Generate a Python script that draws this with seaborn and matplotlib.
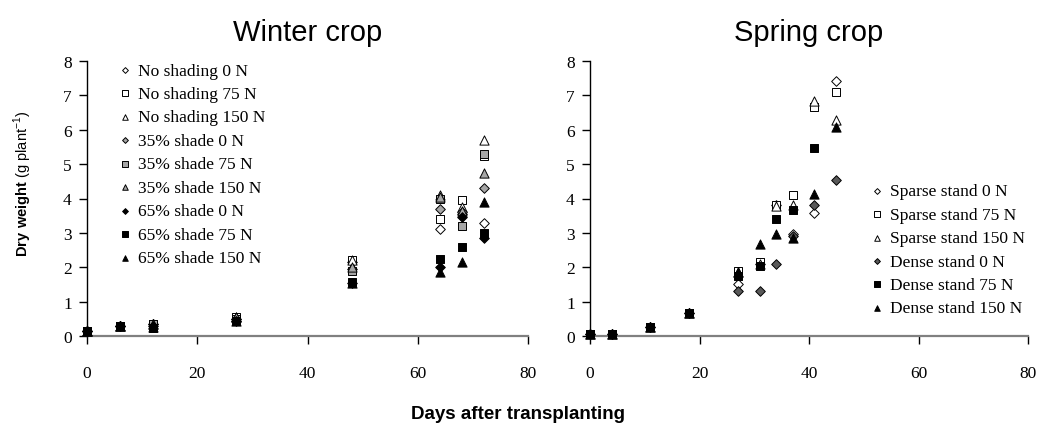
import matplotlib
matplotlib.use("Agg")
import matplotlib.pyplot as plt
import seaborn as sns
import numpy as np

# ---------------- data ----------------
winter_days = [0, 6, 12, 27, 48, 64, 68, 72]
winter_labels = ["No shading 0 N", "No shading 75 N", "No shading 150 N",
                 "35% shade 0 N", "35% shade 75 N", "35% shade 150 N",
                 "65% shade 0 N", "65% shade 75 N", "65% shade 150 N"]
w_ns0 = [0.15, 0.30, 0.35, 0.50, 2.15, 3.10, 3.55, 3.30]
w_ns75 = [0.15, 0.30, 0.35, 0.55, 2.20, 3.40, 3.95, 5.25]
w_ns150 = [0.15, 0.30, 0.35, 0.55, 2.20, 4.10, 3.75, 5.70]
w_s35_0 = [0.15, 0.30, 0.35, 0.50, 1.95, 3.70, 3.60, 4.30]
w_s35_75 = [0.15, 0.30, 0.35, 0.50, 1.90, 4.00, 3.20, 5.30]
w_s35_150 = [0.15, 0.30, 0.35, 0.55, 2.00, 4.05, 3.65, 4.75]
w_s65_0 = [0.15, 0.30, 0.30, 0.45, 1.55, 2.00, 3.45, 2.85]
w_s65_75 = [0.15, 0.30, 0.22, 0.45, 1.57, 2.25, 2.60, 3.00]
w_s65_150 = [0.15, 0.30, 0.25, 0.45, 1.55, 1.85, 2.15, 3.90]
winter_series = [w_ns0, w_ns75, w_ns150, w_s35_0, w_s35_75, w_s35_150,
                 w_s65_0, w_s65_75, w_s65_150]

spring_days = [0, 4, 11, 18, 27, 31, 34, 37, 41, 45]
spring_labels = ["Sparse stand 0 N", "Sparse stand 75 N", "Sparse stand 150 N",
                 "Dense stand 0 N", "Dense stand 75 N", "Dense stand 150 N"]
s_sp0 = [0.05, 0.07, 0.25, 0.68, 1.50, 2.10, 3.80, 2.97, 3.58, 7.42]
s_sp75 = [0.05, 0.07, 0.25, 0.68, 1.90, 2.15, 3.82, 4.09, 6.67, 7.09]
s_sp150 = [0.05, 0.07, 0.25, 0.68, 1.85, 2.10, 3.77, 3.82, 6.85, 6.29]
s_d0 = [0.05, 0.07, 0.25, 0.68, 1.32, 1.32, 2.09, 2.90, 3.82, 4.54]
s_d75 = [0.05, 0.07, 0.25, 0.68, 1.75, 2.05, 3.40, 3.66, 5.46, np.nan]
s_d150 = [0.05, 0.07, 0.25, 0.68, 1.85, 2.68, 2.97, 2.85, 4.12, 6.08]
spring_series = [s_sp0, s_sp75, s_sp150, s_d0, s_d75, s_d150]

# ---------------- style ----------------
sns.set_style("ticks")
plt.rcParams['font.family'] = ['Liberation Serif', 'DejaVu Serif']
plt.rcParams['mathtext.fontset'] = 'custom'
plt.rcParams['mathtext.rm'] = 'Liberation Sans'
plt.rcParams['mathtext.bf'] = 'Liberation Sans:bold'
for key in ['text.color', 'axes.labelcolor', 'xtick.color', 'ytick.color']:
    plt.rcParams[key] = 'black'

marker_of = {"D": ("D", 24), "s": ("s", 40), "^": ("^", 44)}
gray = "#a6a6a6"
dark = "#595959"
winter_styles = [("D", "white"), ("s", "white"), ("^", "white"),
                 ("D", gray), ("s", gray), ("^", gray),
                 ("D", "black"), ("s", "black"), ("^", "black")]
spring_styles = [("D", "white"), ("s", "white"), ("^", "white"),
                 ("D", dark), ("s", "black"), ("^", "black")]

W, H = 1039, 427
fig = plt.figure(figsize=(W / 100, H / 100), dpi=100)
ax1 = fig.add_axes([87 / W, 1 - 337 / H, 441 / W, 275 / H])
ax2 = fig.add_axes([590 / W, 1 - 337 / H, 438 / W, 275 / H])


def draw(ax, days, series, labels, styles, title, leg_anchor):
    for vals, lab, (mk, fc) in zip(series, labels, styles):
        m, s = marker_of[mk]
        sns.scatterplot(x=days, y=vals, ax=ax, marker=m, s=s, color=fc,
                        edgecolor="black", linewidth=0.7, label=lab,
                        clip_on=False, zorder=3)
    ax.set_xlim(0, 80)
    ax.set_ylim(0, 8)
    ax.set_xticks([0, 20, 40, 60, 80])
    ax.set_yticks(range(0, 9))
    sns.despine(ax=ax)
    ax.spines['left'].set_color('black')
    ax.spines['left'].set_linewidth(1.0)
    ax.spines['bottom'].set_color('#808080')
    ax.spines['bottom'].set_linewidth(1.6)
    ax.tick_params(axis='y', direction='out', length=6, width=1, pad=5,
                   labelsize=12.5, color='black', labelcolor='black')
    ax.tick_params(axis='x', direction='out', length=6, width=1, pad=15,
                   labelsize=12.5, color='black', labelcolor='black')
    ax.set_xlabel("")
    ax.set_ylabel("")
    ax.set_title(title, fontsize=21, family='Liberation Sans', pad=15,
                 color='black')
    leg = ax.legend(loc='upper left', bbox_to_anchor=leg_anchor, frameon=False,
                    fontsize=12.5, borderpad=0, borderaxespad=0,
                    handlelength=0.8, handletextpad=0.35, labelspacing=0.42,
                    markerscale=0.6, labelcolor='black')
    return leg


draw(ax1, winter_days, winter_series, winter_labels, winter_styles,
     "Winter crop", (0.07, 0.995))
draw(ax2, spring_days, spring_series, spring_labels, spring_styles,
     "Spring crop", (0.64, 0.556))

fig.text(23 / W, 1 - 184 / H, r"$\bf{Dry\ weight}$ (g plant$^{-1}$)",
         rotation=90, ha='center', va='center', fontsize=10.5,
         family='Liberation Sans', color='black')
fig.text(518 / W, 1 - 415 / H, "Days after transplanting", ha='center',
         va='center', fontsize=13.5, fontweight='bold', family='Liberation Sans',
         color='black')

fig.savefig("out.png", dpi=100)
